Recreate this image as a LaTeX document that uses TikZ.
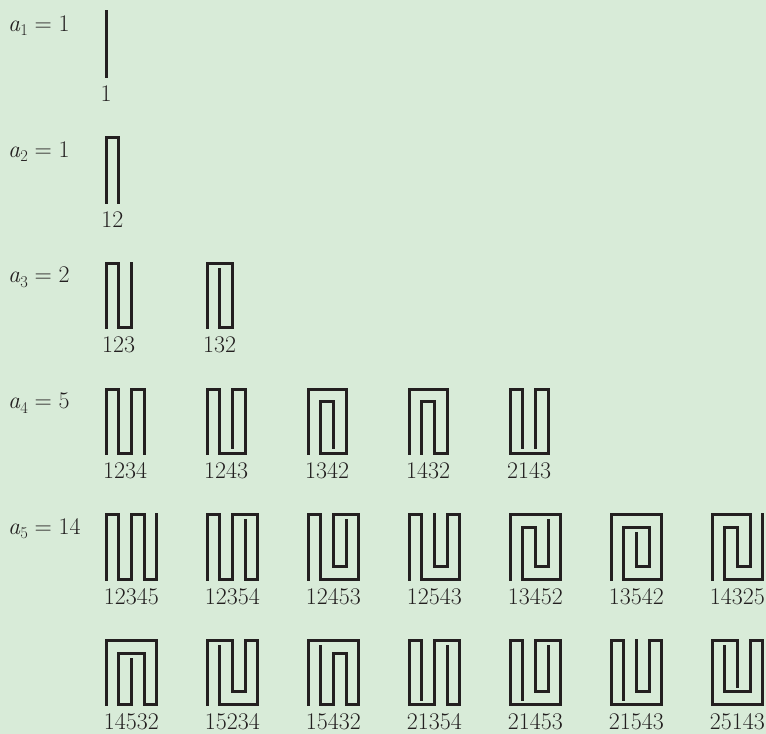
\documentclass[tikz,border=0pt]{standalone}
\usepackage{fontspec}
\usepackage{xcolor}
\usepackage{tikz}
\definecolor{paper}{HTML}{D8EBD8}
\definecolor{ink}{HTML}{231F20}
\newcommand{\countof}[2]{\textit{a}\raisebox{-4.5bp}{\fontsize{16.5}{16.5}\selectfont #1}\hspace{0.28em}=\hspace{0.28em}#2}
\tikzset{
  fold/.style={draw=ink, line width=3bp, line cap=rect, line join=miter},
  stamps/.style={x=12.7bp, y=-12.86bp},
  seq/.style={text=ink, anchor=base, inner sep=0pt, font=\fontsize{24}{28}\selectfont},
  count/.style={text=ink, anchor=base west, inner sep=0pt, font=\fontsize{24}{28}\selectfont},
}
\begin{document}
\begin{tikzpicture}[x=1bp, y=-1bp]
  \fill[paper] (0,0) rectangle (766,734);
  \useasboundingbox (0,0) rectangle (766,734);
  % counts
  \node[count] (a1) at (8,31.5) {\countof{1}{1}};
  \node[count] (a2) at (8,157.2) {\countof{2}{1}};
  \node[count] (a3) at (8,282.9) {\countof{3}{2}};
  \node[count] (a4) at (8,408.6) {\countof{4}{5}};
  \node[count] (a5) at (8,534.3) {\countof{5}{14}};
  % n = 1
  \begin{scope}[shift={(106,12)}, stamps]
    \draw[fold] (0,5) -- (0,0);
    \node[seq] (s1) at (0,6.95) {1};
  \end{scope}
  % n = 2
  \begin{scope}[shift={(106,137.7)}, stamps]
    \draw[fold] (0,5) |- (1,0) -- (1,5);
    \node[seq] (s12) at (0.5,6.95) {12};
  \end{scope}
  % n = 3
  \begin{scope}[shift={(106,263.4)}, stamps]
    \draw[fold] (0,5) |- (1,0) |- (2,5) -- (2,0);
    \node[seq] (s123) at (1,6.95) {123};
  \end{scope}
  \begin{scope}[shift={(207,263.4)}, stamps]
    \draw[fold] (0,5) |- (2,0) |- (1,5) -- (1,0.45);
    \node[seq] (s132) at (1,6.95) {132};
  \end{scope}
  % n = 4
  \begin{scope}[shift={(106,389.1)}, stamps]
    \draw[fold] (0,5) |- (1,0) |- (2,5) |- (3,0) -- (3,5);
    \node[seq] (s1234) at (1.5,6.95) {1234};
  \end{scope}
  \begin{scope}[shift={(207,389.1)}, stamps]
    \draw[fold] (0,5) |- (1,0) |- (3,5) |- (2,0) -- (2,4.55);
    \node[seq] (s1243) at (1.5,6.95) {1243};
  \end{scope}
  \begin{scope}[shift={(308,389.1)}, stamps]
    \draw[fold] (0,5) |- (3,0) |- (1,5) |- (2,1) -- (2,4.55);
    \node[seq] (s1342) at (1.5,6.95) {1342};
  \end{scope}
  \begin{scope}[shift={(409,389.1)}, stamps]
    \draw[fold] (0,5) |- (3,0) |- (2,5) |- (1,1) -- (1,5);
    \node[seq] (s1432) at (1.5,6.95) {1432};
  \end{scope}
  \begin{scope}[shift={(510,389.1)}, stamps]
    \draw[fold] (1,4.55) |- (0,0) |- (3,5) |- (2,0) -- (2,4.55);
    \node[seq] (s2143) at (1.5,6.95) {2143};
  \end{scope}
  % n = 5, first row
  \begin{scope}[shift={(106,514.8)}, stamps]
    \draw[fold] (0,5) |- (1,0) |- (2,5) |- (3,0) |- (4,5) -- (4,0);
    \node[seq] (s12345) at (2,6.95) {12345};
  \end{scope}
  \begin{scope}[shift={(207,514.8)}, stamps]
    \draw[fold] (0,5) |- (1,0) |- (2,5) |- (4,0) |- (3,5) -- (3,0.45);
    \node[seq] (s12354) at (2,6.95) {12354};
  \end{scope}
  \begin{scope}[shift={(308,514.8)}, stamps]
    \draw[fold] (0,5) |- (1,0) |- (4,5) |- (2,0) |- (3,4) -- (3,0.45);
    \node[seq] (s12453) at (2,6.95) {12453};
  \end{scope}
  \begin{scope}[shift={(409,514.8)}, stamps]
    \draw[fold] (0,5) |- (1,0) |- (4,5) |- (3,0) |- (2,4) -- (2,0);
    \node[seq] (s12543) at (2,6.95) {12543};
  \end{scope}
  \begin{scope}[shift={(510,514.8)}, stamps]
    \draw[fold] (0,5) |- (4,0) |- (1,5) |- (2,1) |- (3,4) -- (3,0.45);
    \node[seq] (s13452) at (2,6.95) {13452};
  \end{scope}
  \begin{scope}[shift={(611,514.8)}, stamps]
    \draw[fold] (0,5) |- (4,0) |- (1,5) |- (3,1) |- (2,4) -- (2,1.45);
    \node[seq] (s13542) at (2,6.95) {13542};
  \end{scope}
  \begin{scope}[shift={(712,514.8)}, stamps]
    \draw[fold] (0,5) |- (3,0) |- (2,4) |- (1,1) |- (4,5) -- (4,0);
    \node[seq] (s14325) at (2,6.95) {14325};
  \end{scope}
  % n = 5, second row
  \begin{scope}[shift={(106,640.5)}, stamps]
    \draw[fold] (0,5) |- (4,0) |- (3,5) |- (1,1) |- (2,5) -- (2,1.45);
    \node[seq] (s14532) at (2,6.9) {14532};
  \end{scope}
  \begin{scope}[shift={(207,640.5)}, stamps]
    \draw[fold] (0,5) |- (2,0) |- (3,4) |- (4,0) |- (1,5) -- (1,0.45);
    \node[seq] (s15234) at (2,6.9) {15234};
  \end{scope}
  \begin{scope}[shift={(308,640.5)}, stamps]
    \draw[fold] (0,5) |- (4,0) |- (3,5) |- (2,1) |- (1,5) -- (1,0.45);
    \node[seq] (s15432) at (2,6.9) {15432};
  \end{scope}
  \begin{scope}[shift={(409,640.5)}, stamps]
    \draw[fold] (1,4.55) |- (0,0) |- (2,5) |- (4,0) |- (3,5) -- (3,0.45);
    \node[seq] (s21354) at (2,6.9) {21354};
  \end{scope}
  \begin{scope}[shift={(510,640.5)}, stamps]
    \draw[fold] (1,4.55) |- (0,0) |- (4,5) |- (2,0) |- (3,4) -- (3,0.45);
    \node[seq] (s21453) at (2,6.9) {21453};
  \end{scope}
  \begin{scope}[shift={(611,640.5)}, stamps]
    \draw[fold] (1,4.55) |- (0,0) |- (4,5) |- (3,0) |- (2,4) -- (2,0);
    \node[seq] (s21543) at (2,6.9) {21543};
  \end{scope}
  \begin{scope}[shift={(712,640.5)}, stamps]
    \draw[fold] (2,3.55) |- (0,0) |- (4,5) |- (3,0) |- (1,4) -- (1,0.45);
    \node[seq] (s25143) at (2,6.9) {25143};
  \end{scope}
\end{tikzpicture}
\end{document}
